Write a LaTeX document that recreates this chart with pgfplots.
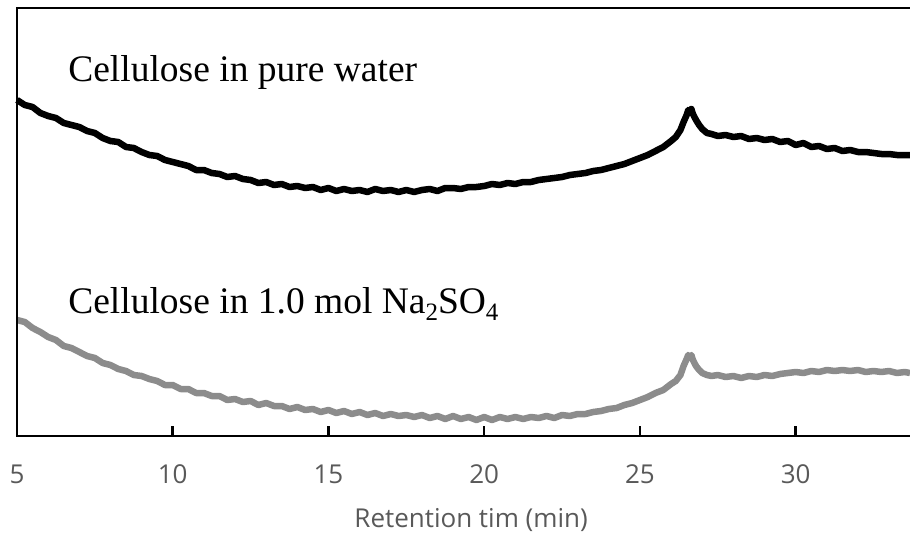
\documentclass[border=0pt]{standalone}
\usepackage{fontspec}
\setmainfont{Liberation Serif}
\newfontfamily\ticksans{Open Sans}
\usepackage{pgfplots}
\pgfplotsset{compat=1.18}
\definecolor{seriesgray}{HTML}{8C8C8C}
\definecolor{labelgray}{HTML}{595959}
\newcommand{\sub}[1]{\raisebox{-7pt}{\fontsize{25}{25}\selectfont #1}}
\begin{document}
\begin{tikzpicture}
\begin{axis}[
  name=ax,
  scale only axis,
  width=893pt, height=428pt,
  xmin=5, xmax=33.67, ymin=0, ymax=428,
  axis x line=bottom, axis y line=left,
  axis line style={-, line width=2.5pt, black},
  xtick={5,10,15,20,25,30},
  ytick=\empty,
  tick align=inside,
  major tick length=10pt,
  tick style={black, line width=2.5pt},
  /pgf/number format/assume math mode=true,
  xticklabel style={font=\ticksans\fontsize{26}{30}\selectfont, text=labelgray, anchor=base, yshift=-47pt},
  xlabel={Retention tim (min)},
  xlabel style={font=\ticksans\fontsize{26}{30}\selectfont, text=labelgray, at={(axis cs:19.58,0)}, anchor=base, yshift=-91pt},
  clip=false,
]
\addplot[black, line width=6.5pt, line join=round] coordinates {
(5.00,336)(5.25,331)(5.50,329)(5.75,323)(6.00,320)(6.25,318)(6.50,313)(6.75,311)(7.00,309)(7.25,305)(7.50,303)(7.75,298)(8.00,295)(8.25,294)(8.50,289)(8.75,288)(9.00,284)(9.25,281)(9.50,280)(9.75,276)(10.00,274)(10.25,272)(10.50,270)(10.75,266)(11.00,266)(11.25,263)(11.50,262)(11.75,259)(12.00,260)(12.25,257)(12.50,256)(12.75,253)(13.00,254)(13.25,251)(13.50,252)(13.75,249)(14.00,250)(14.25,248)(14.50,249)(14.75,246)(15.00,248)(15.25,245)(15.50,247)(15.75,245)(16.00,246)(16.25,244)(16.50,247)(16.75,245)(17.00,246)(17.25,244)(17.50,246)(17.75,244)(18.00,246)(18.25,247)(18.50,245)(18.75,248)(19.00,248)(19.25,247)(19.50,249)(19.75,249)(20.00,250)(20.25,252)(20.50,251)(20.75,253)(21.00,252)(21.25,254)(21.50,254)(21.75,256)(22.00,257)(22.25,258)(22.50,259)(22.75,261)(23.00,262)(23.25,263)(23.50,265)(23.75,266)(24.00,268)(24.25,270)(24.50,272)(24.75,275)(25.00,278)(25.25,281)(25.50,285)(25.75,289)(26.00,295)(26.15,299)(26.30,306)(26.40,314)(26.50,321)(26.55,326)(26.60,324)(26.65,327)(26.70,322)(26.80,316)(26.90,311)(27.00,307)(27.15,303)(27.30,302)(27.50,300)(27.75,301)(28.00,299)(28.25,300)(28.50,297)(28.75,298)(29.00,296)(29.25,297)(29.50,294)(29.75,295)(30.00,291)(30.25,293)(30.50,289)(30.75,290)(31.00,287)(31.25,288)(31.50,285)(31.75,286)(32.00,284)(32.25,284)(32.50,283)(32.75,282)(33.00,282)(33.25,281)(33.50,281)(33.67,281)
};
\addplot[seriesgray, line width=6.5pt, line join=round] coordinates {
(5.00,116)(5.25,114)(5.50,108)(5.75,104)(6.00,99)(6.25,96)(6.50,90)(6.75,88)(7.00,84)(7.25,80)(7.50,78)(7.75,73)(8.00,71)(8.25,67)(8.50,65)(8.75,61)(9.00,60)(9.25,57)(9.50,55)(9.75,51)(10.00,51)(10.25,47)(10.50,47)(10.75,43)(11.00,43)(11.25,40)(11.50,40)(11.75,36)(12.00,37)(12.25,34)(12.50,35)(12.75,31)(13.00,33)(13.25,30)(13.50,30)(13.75,27)(14.00,29)(14.25,26)(14.50,27)(14.75,24)(15.00,26)(15.25,23)(15.50,25)(15.75,22)(16.00,24)(16.25,21)(16.50,23)(16.75,20)(17.00,22)(17.25,20)(17.50,21)(17.75,19)(18.00,21)(18.25,18)(18.50,20)(18.75,17)(19.00,20)(19.25,17)(19.50,19)(19.75,16)(20.00,19)(20.25,16)(20.50,19)(20.75,17)(21.00,19)(21.25,17)(21.50,19)(21.75,18)(22.00,20)(22.25,18)(22.50,21)(22.75,20)(23.00,22)(23.25,22)(23.50,24)(23.75,25)(24.00,27)(24.25,28)(24.50,31)(24.75,33)(25.00,36)(25.25,39)(25.50,43)(25.75,46)(26.00,52)(26.15,55)(26.30,61)(26.40,70)(26.50,77)(26.55,81)(26.60,79)(26.65,81)(26.70,76)(26.80,70)(26.90,66)(27.00,63)(27.15,61)(27.30,60)(27.50,61)(27.75,59)(28.00,60)(28.25,58)(28.50,60)(28.75,59)(29.00,61)(29.25,60)(29.50,62)(29.75,63)(30.00,64)(30.25,63)(30.50,65)(30.75,64)(31.00,66)(31.25,65)(31.50,66)(31.75,65)(32.00,66)(32.25,64)(32.50,65)(32.75,64)(33.00,65)(33.25,63)(33.50,64)(33.67,63)
};
\node[anchor=base west, inner sep=0pt, font=\fontsize{37.5}{40}\selectfont] at (axis cs:6.64,354) {Cellulose in pure water};
\node[anchor=base west, inner sep=0pt, font=\fontsize{37.5}{40}\selectfont] at (axis cs:6.64,123) {Cellulose in 1.0 mol Na\sub{2}SO\sub{4}};
\coordinate (bbsw) at (axis cs:5,0);
\coordinate (bbne) at (axis cs:33.67,428);
\end{axis}
\fill[black] ([xshift=-1.25pt,yshift=-1.25pt]bbsw |- bbne) rectangle ([yshift=1.25pt]bbne);
\fill[black] ([xshift=-1.25pt,yshift=-1.25pt]bbsw) rectangle ([xshift=1.25pt,yshift=1.25pt]bbsw |- bbne);
\pgfresetboundingbox
\useasboundingbox ([xshift=-17pt,yshift=-100pt]bbsw) rectangle ([yshift=8pt]bbne);
\end{tikzpicture}
\end{document}
